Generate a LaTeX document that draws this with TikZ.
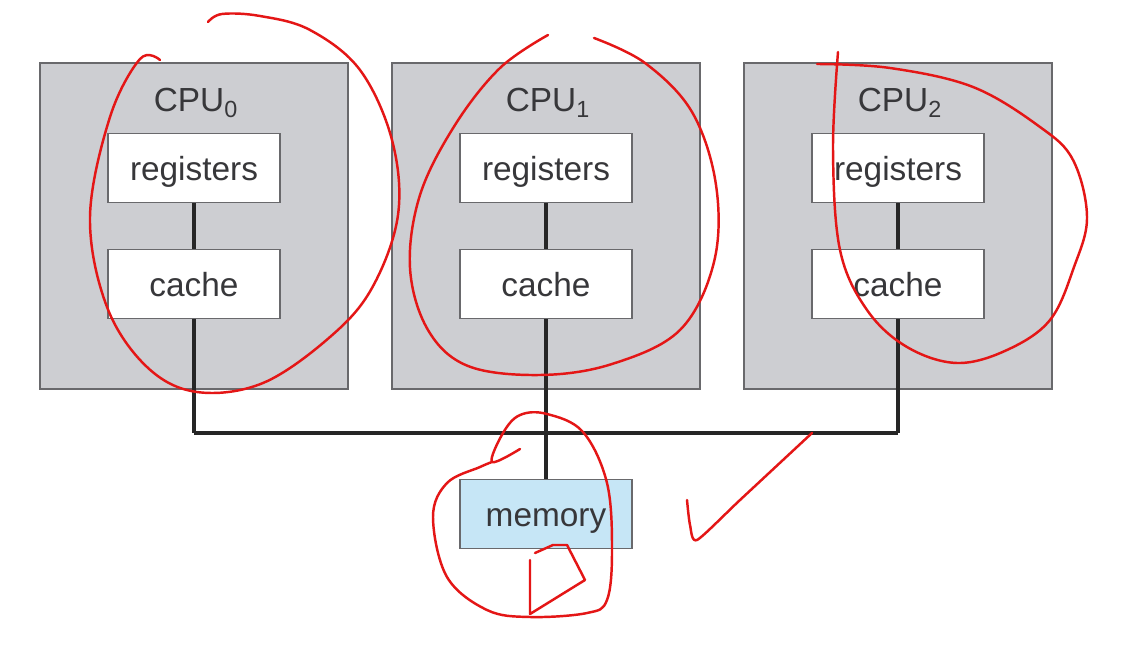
\documentclass[tikz,border=0pt]{standalone}
\usepackage{fontspec}
\setmainfont{Liberation Sans}
\usetikzlibrary{calc}
\usepackage{xcolor}
\definecolor{cpugray}{RGB}{205,206,210}
\definecolor{edgegray}{RGB}{105,105,108}
\definecolor{memblue}{RGB}{198,230,246}
\definecolor{inkgray}{RGB}{55,55,58}
\definecolor{pen}{RGB}{228,22,22}

\begin{document}
\begin{tikzpicture}[x=0.02cm,y=-0.02cm,
    cpubox/.style={draw=edgegray,fill=cpugray,line width=0.9pt,minimum width=6.16cm,minimum height=6.52cm,inner sep=0pt},
    unitbox/.style={draw=edgegray,fill=white,line width=0.9pt,minimum width=3.44cm,minimum height=1.38cm,inner sep=0pt,
      text height=0.62cm,text depth=0.13cm,text=inkgray,font=\fontsize{19}{22}\selectfont},
    membox/.style={unitbox,fill=memblue},
    cpulabel/.style={text=inkgray,font=\fontsize{19}{22}\selectfont,inner sep=0pt},
    bus/.style={line width=2.3pt,draw=black!85},
    scribble/.style={pen,line width=1.4pt,line cap=round,line join=round}]
  \useasboundingbox[fill=white] (0,0) rectangle (1124,668);
  % processors
  \foreach \i/\x in {0/194,1/546,2/898}{
    \node[cpubox] (cpu\i) at (\x,226) {};
    \node[cpulabel] (lab\i) at (\x+2,103) {CPU\textsubscript{\i}};
    \node[unitbox] (reg\i) at (\x,168) {registers};
    \node[unitbox] (cache\i) at (\x,284) {cache};
    \coordinate (tap\i) at (\x,433);
    \draw[bus] (reg\i) -- (cache\i);
    \draw[bus] (cache\i) -- (tap\i);
  }
  \node[membox] (mem) at (546,514) {memory};
  \draw[bus] (tap0) -- (tap2);
  \draw[bus] (tap1) -- (mem);
  % pen marks
  \draw[scribble] plot[smooth,tension=0.6] coordinates {(160,60) (140,59) (110,117) (90,217) (107,307) (147,367) (197,392) (263,383) (330,337) (372,288) (398,215) (392,140) (360,70) (310,30) (260,16) (222,14) (208,22)};
  \draw[scribble] plot[smooth,tension=0.6] coordinates {(548,35) (500,68) (455,125) (420,195) (410,268) (428,330) (468,366) (540,375) (612,364) (680,330) (714,262) (716,185) (692,112) (645,63) (594,38)};
  \draw[scribble] plot[smooth,tension=0.6] coordinates {(838,52) (833,150) (840,250) (867,310) (907,347) (957,363) (1007,350) (1050,320) (1074,267) (1087,217) (1073,160) (1040,127) (973,87) (890,68) (817,64)};
  \draw[scribble] plot[smooth,tension=0.6] coordinates {(520,449) (492,462) (503,433) (520,415) (547,414) (583,432) (607,483) (612,550) (607,600) (587,613) (530,617) (487,610) (447,577) (433,517) (447,483) (480,467) (492,462)};
  \draw[scribble] (530,560) -- (530,614) -- (585,580) -- (567,545) -- (553,545) -- (535,553);
  \draw[scribble] plot[smooth,tension=0.4] coordinates {(687,500) (690,525) (697,540) (740,500) (812,433)};
\end{tikzpicture}
\end{document}
